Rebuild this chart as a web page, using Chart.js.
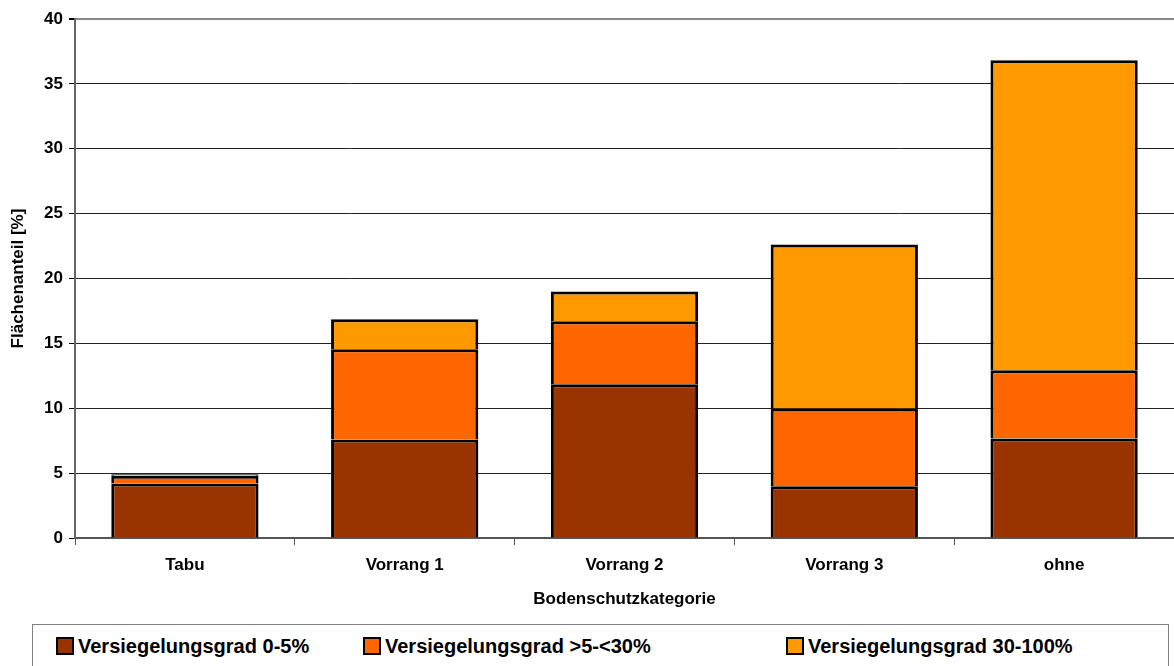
<!DOCTYPE html>
<html>
<head>
<meta charset="utf-8">
<script src="https://cdn.jsdelivr.net/npm/chart.js@4"></script>
<style>
    body { margin: 0; background: #fff; font-family: Arial, "Liberation Sans", sans-serif; }
    #wrap { position: relative; width: 1174px; height: 666px; }
    #chart { position: absolute; left: 0; top: 0; }
    #legend {
        position: absolute; left: 32px; top: 624px; width: 1137px; height: 44px;
        border: 1px solid #808080; box-sizing: border-box;
        display: flex; align-items: center; font-weight: bold; font-size: 20px;
    }
    .item { position: absolute; display: flex; align-items: center; }
    .box { width: 14px; height: 14px; border: 2px solid #000; margin-right: 4px; }
</style>
</head>
<body>
<div id="wrap">
    <canvas id="chart" width="1174" height="618"></canvas>
    <div id="legend"></div>
</div>
<script>
// --  data  --
const categories = ['Tabu', 'Vorrang 1', 'Vorrang 2', 'Vorrang 3', 'ohne']
const seriesNames = ['Versiegelungsgrad 0-5%', 'Versiegelungsgrad >5-<30%', 'Versiegelungsgrad 30-100%']
const grad0to5 = [4.2, 7.6, 11.85, 3.98, 7.67]
const grad5to30 = [0.6, 6.95, 4.85, 6.0, 5.25]
const grad30to100 = [0.12, 2.3, 2.3, 12.65, 23.9]
const seriesColors = ['#993300', '#FF6600', '#FF9900']
const yTicks = [0, 5, 10, 15, 20, 25, 30, 35, 40]

const seriesValues = [grad0to5, grad5to30, grad30to100]

function makeDataset (i) {
    return {
        label: seriesNames[i],
        data: seriesValues[i],
        backgroundColor: seriesColors[i],
        borderColor: '#000',
        borderWidth: { top: 3, left: 3, right: 3, bottom: 0 }, //bottom is covered by the segment below
        inflateAmount: 0,
        barPercentage: 0.67,
        categoryPercentage: 1
    }
}

const boldFont = { family: 'Arial, "Liberation Sans", sans-serif', weight: 'bold', size: 17 }

const ctx = document.getElementById('chart').getContext('2d')
new Chart(ctx, {
    type: 'bar',
    data: {
        labels: categories,
        datasets: [makeDataset(0), makeDataset(1), makeDataset(2)]
    },
    options: {
        responsive: false,
        animation: false,
        layout: { padding: { top: 19, right: 0, left: 0, bottom: 0 } },
        plugins: {
            legend: { display: false },
            tooltip: { enabled: false }
        },
        scales: {
            x: {
                stacked: true,
                afterFit: function (scale) { scale.height = 80 },
                grid: {
                    offset: true,
                    drawOnChartArea: false,
                    tickLength: 7,
                    color: '#555'
                },
                border: { color: '#555', width: 2 },
                ticks: { color: '#000', font: boldFont, padding: 10 },
                title: {
                    display: true,
                    text: 'Bodenschutzkategorie',
                    color: '#000',
                    font: boldFont,
                    padding: { top: 4, bottom: 8 }
                }
            },
            y: {
                stacked: true,
                min: 0,
                max: 40,
                afterFit: function (scale) { scale.width = 75 },
                afterBuildTicks: function (scale) { scale.ticks = yTicks.map(v => ({ value: v })) },
                grid: {
                    color: function (c) { return c.tick && c.tick.value === 40 ? '#888' : '#222' },
                    lineWidth: function (c) { return c.tick && c.tick.value === 40 ? 2 : 1 },
                    tickLength: 6,
                    tickColor: '#000'
                },
                border: { color: '#666', width: 2 },
                ticks: { color: '#000', font: boldFont, padding: 6 },
                title: {
                    display: true,
                    text: 'Flächenanteil [%]',
                    color: '#000',
                    font: boldFont,
                    padding: { top: 8, bottom: 0 }
                }
            }
        }
    }
})

// legend as html below the canvas, built from the same arrays
const legendDiv = document.getElementById('legend')
const legendX = [23, 330, 753]
seriesNames.forEach((name, i) => {
    const item = document.createElement('div')
    item.className = 'item'
    item.style.left = legendX[i] + 'px'
    item.innerHTML = '<span class="box" style="background:' + seriesColors[i] + '"></span>' + name
    legendDiv.appendChild(item)
})
</script>
</body>
</html>
